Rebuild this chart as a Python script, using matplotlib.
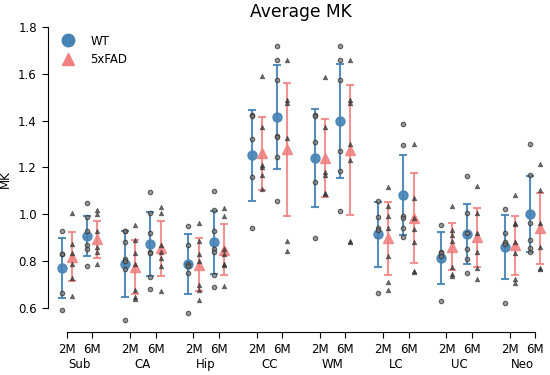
import numpy as np
import matplotlib.pyplot as plt
from matplotlib.lines import Line2D

regions = ['Sub', 'CA', 'Hip', 'CC', 'WM', 'LC', 'UC', 'Neo']
ages = ['2M', '6M']

# group means / SD, order: Sub 2M, Sub 6M, CA 2M, CA 6M, ...
wt_mean = [0.77, 0.909, 0.788, 0.872, 0.788, 0.88, 1.253, 1.417,
           1.241, 1.399, 0.914, 1.083, 0.814, 0.916, 0.862, 1.0]
wt_sd = [0.127, 0.086, 0.139, 0.137, 0.128, 0.136, 0.194, 0.222,
         0.208, 0.243, 0.139, 0.171, 0.111, 0.128, 0.137, 0.162]
fad_mean = [0.819, 0.893, 0.774, 0.855, 0.784, 0.848, 1.26, 1.278,
            1.239, 1.275, 0.898, 0.983, 0.862, 0.902, 0.869, 0.94]
fad_sd = [0.104, 0.078, 0.115, 0.118, 0.113, 0.109, 0.155, 0.283,
          0.166, 0.276, 0.155, 0.192, 0.10, 0.126, 0.126, 0.153]

# individual animals
wt_pts = [
    [0.93, 0.83, 0.83, 0.665, 0.59],
    [1.05, 0.99, 0.93, 0.87, 0.85, 0.78],
    [0.93, 0.93, 0.88, 0.81, 0.80, 0.765, 0.55],
    [1.095, 1.004, 0.922, 0.84, 0.835, 0.734, 0.68],
    [0.95, 0.87, 0.79, 0.78, 0.75, 0.58],
    [1.10, 1.02, 0.93, 0.85, 0.84, 0.74, 0.69],
    [1.425, 1.42, 1.32, 1.16, 0.94],
    [1.72, 1.66, 1.575, 1.335, 1.33, 1.245, 1.055],
    [1.425, 1.42, 1.31, 1.14, 0.90],
    [1.72, 1.66, 1.575, 1.27, 1.185, 1.015],
    [1.055, 0.99, 0.94, 0.935, 0.665],
    [1.385, 1.295, 0.995, 0.985, 0.94, 0.905],
    [0.955, 0.84, 0.835, 0.82, 0.63],
    [1.165, 1.005, 0.92, 0.85, 0.81, 0.75],
    [1.023, 0.92, 0.88, 0.875, 0.623],
    [1.30, 1.17, 0.965, 0.89, 0.855, 0.84],
]
fad_pts = [
    [1.007, 0.873, 0.833, 0.787, 0.73, 0.651],
    [1.02, 1.00, 0.93, 0.86, 0.84, 0.79],
    [0.955, 0.89, 0.835, 0.79, 0.675, 0.645, 0.64],
    [1.033, 1.004, 0.869, 0.84, 0.812, 0.779, 0.672],
    [0.965, 0.885, 0.83, 0.80, 0.70, 0.675, 0.635],
    [1.025, 0.995, 0.85, 0.83, 0.79, 0.785, 0.695],
    [1.59, 1.375, 1.21, 1.20, 1.17, 1.11],
    [1.66, 1.49, 1.475, 1.325, 0.887, 0.843],
    [1.585, 1.375, 1.18, 1.17, 1.09, 1.085],
    [1.66, 1.49, 1.475, 1.30, 1.23, 0.885, 0.88],
    [1.115, 1.035, 0.995, 0.94, 0.82, 0.71, 0.675],
    [1.30, 1.068, 0.983, 0.936, 0.883, 0.759, 0.755],
    [1.035, 0.933, 0.91, 0.885, 0.775, 0.745, 0.737],
    [1.12, 1.005, 0.92, 0.84, 0.77, 0.725],
    [1.083, 0.962, 0.96, 0.883, 0.833, 0.722, 0.708],
    [1.215, 1.105, 0.965, 0.86, 0.77, 0.765],
]

blue = '#4682b4'
pink = '#f08080'
fs = 8.5

fig = plt.figure(figsize=(5.5, 3.75), dpi=100)
ax = fig.add_axes([48 / 550, 43 / 375, 506 / 550, 305 / 375])

ticks = []
for g in range(len(regions)):
    ticks += [g - 0.2, g + 0.2]
ticks = np.array(ticks)
off = 0.08

for i, t in enumerate(ticks):
    ax.errorbar(t - off, wt_mean[i], yerr=wt_sd[i], fmt='o', color=blue,
                ms=6.5, elinewidth=1.5, capsize=3, capthick=1.5, alpha=0.9, zorder=2)
    ax.errorbar(t + off, fad_mean[i], yerr=fad_sd[i], fmt='^', color=pink,
                ms=7, elinewidth=1.5, capsize=3, capthick=1.5, alpha=0.85, zorder=2)
    ax.plot(np.full(len(wt_pts[i]), t - off), wt_pts[i], 'o', ms=3.2,
            mfc='#777777', mec='#333333', mew=0.8, alpha=0.75, zorder=3)
    ax.plot(np.full(len(fad_pts[i]), t + off), fad_pts[i], '^', ms=3.4,
            mfc='#333333', mec='#333333', mew=0.4, alpha=0.75, zorder=3)

ax.set_xlim(-0.5, 7.5)
ax.set_ylim(0.4975, 1.8)
ax.set_xticks(ticks)
ax.set_xticklabels(ages * len(regions), fontsize=fs)
ax.set_yticks([0.6, 0.8, 1.0, 1.2, 1.4, 1.6, 1.8])
ax.tick_params(axis='y', labelsize=fs)
ax.tick_params(axis='both', length=4.5)
ax.spines['top'].set_visible(False)
ax.spines['right'].set_visible(False)
ax.spines['left'].set_bounds(0.6, 1.8)
ax.spines['bottom'].set_bounds(ticks[0], ticks[-1])

for g, name in enumerate(regions):
    ax.text(g, -0.108, name, transform=ax.get_xaxis_transform(),
            ha='center', va='center', fontsize=fs)

ax.set_ylabel('MK', fontsize=fs)
ax.yaxis.set_label_coords(-0.071, 0.5)
ax.set_title('Average MK', fontsize=12.3, pad=7)

handles = [Line2D([], [], ls='none', marker='o', color=blue, ms=9),
           Line2D([], [], ls='none', marker='^', color=pink, ms=9)]
ax.legend(handles, ['WT', '5xFAD'], loc='upper left', frameon=False,
          fontsize=fs, bbox_to_anchor=(-0.005, 1.01), handletextpad=0.9,
          labelspacing=0.5)

plt.savefig('out.png', dpi=100)
